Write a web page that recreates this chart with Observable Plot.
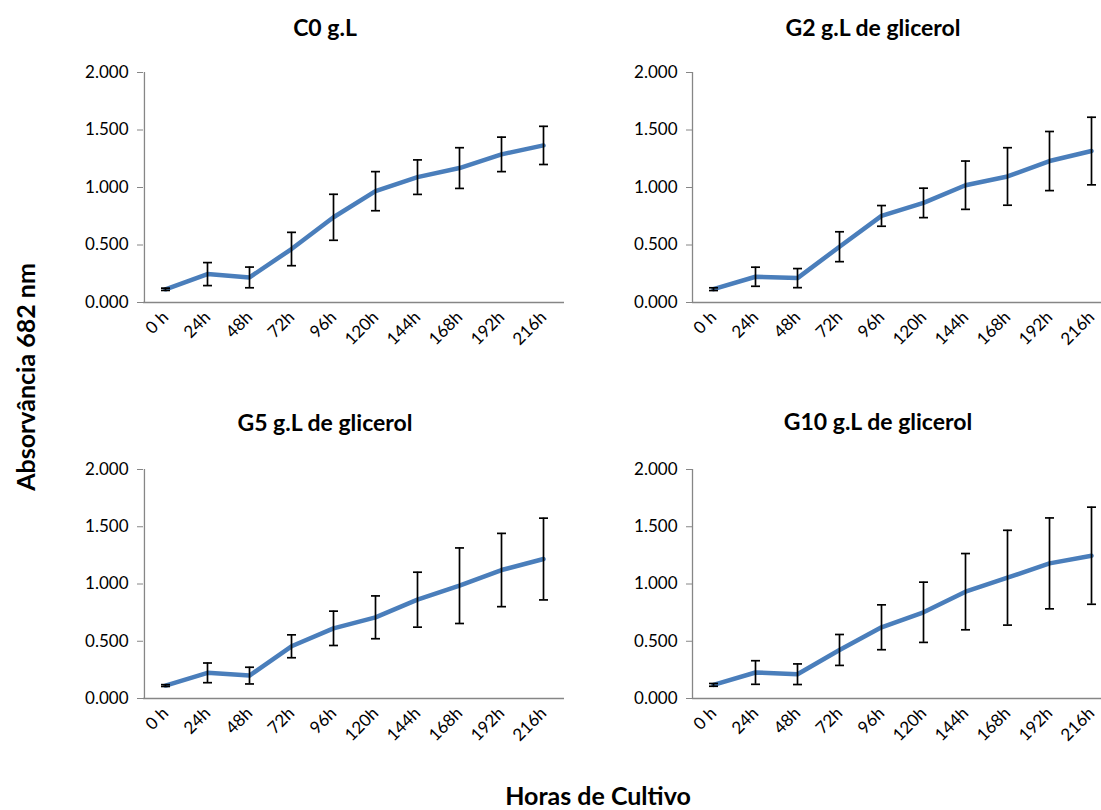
<!DOCTYPE html>
<html>
<head>
<meta charset="utf-8">
<script src="https://cdn.jsdelivr.net/npm/d3@7"></script>
<script src="https://cdn.jsdelivr.net/npm/@observablehq/plot@0.6"></script>
<style>
  html, body { margin: 0; padding: 0; background: #fff; }
  #page { position: relative; width: 1101px; height: 810px; overflow: hidden; font-family: Lato, "Open Sans", sans-serif; }
  .panel { position: absolute; }
  .panel svg { max-width: none !important; }
  .panel svg g[aria-label="y-axis tick label"] text,
  .panel svg g[aria-label="y-axis tick label"] { font-size: 17px !important; fill: #000; }
  .panel svg g[aria-label="x-axis tick label"] text,
  .panel svg g[aria-label="x-axis tick label"] { font-size: 17px !important; fill: #000; }
  .title { position: absolute; width: 400px; text-align: center; font-weight: bold; font-size: 23px; line-height: 28px; color: #000; white-space: nowrap; }
  .ytitle { position: absolute; font-weight: bold; font-size: 25px; line-height: 28px; color: #000; white-space: nowrap; transform: translate(-50%, -50%) rotate(-90deg); }
  .xtitle { position: absolute; font-weight: bold; font-size: 25px; line-height: 26px; color: #000; white-space: nowrap; transform: translate(-50%, -50%); }
</style>
</head>
<body>
<div id="page"></div>
<script>
const hours = ["0 h", "24h", "48h", "72h", "96h", "120h", "144h", "168h", "192h", "216h"];
const yTicks = [0, 0.5, 1, 1.5, 2];

const titles = ["C0 g.L", "G2 g.L de glicerol", "G5 g.L de glicerol", "G10 g.L de glicerol"];

const c0Mean  = [0.115, 0.247, 0.218, 0.465, 0.741, 0.968, 1.090, 1.169, 1.288, 1.366];
const c0Err   = [0.010, 0.100, 0.090, 0.145, 0.200, 0.170, 0.150, 0.177, 0.150, 0.166];
const g2Mean  = [0.116, 0.224, 0.212, 0.485, 0.753, 0.866, 1.020, 1.096, 1.230, 1.317];
const g2Err   = [0.012, 0.083, 0.083, 0.130, 0.090, 0.128, 0.210, 0.250, 0.257, 0.294];
const g5Mean  = [0.113, 0.224, 0.200, 0.456, 0.613, 0.709, 0.863, 0.985, 1.122, 1.218];
const g5Err   = [0.008, 0.086, 0.073, 0.100, 0.150, 0.187, 0.240, 0.330, 0.320, 0.357];
const g10Mean = [0.119, 0.227, 0.212, 0.424, 0.622, 0.753, 0.933, 1.055, 1.180, 1.247];
const g10Err  = [0.012, 0.103, 0.090, 0.135, 0.196, 0.263, 0.333, 0.414, 0.397, 0.424];

const series = [
  {title: titles[0], mean: c0Mean, err: c0Err},
  {title: titles[1], mean: g2Mean, err: g2Err},
  {title: titles[2], mean: g5Mean, err: g5Err},
  {title: titles[3], mean: g10Mean, err: g10Err}
];

// layout of the four panels (positions only)
const layout = [
  {left: 0,   top: 0,   width: 564, height: 395, mt: 72, mb: 93,  ml: 143, tx: 325, ty: 27},
  {left: 550, top: 0,   width: 562, height: 395, mt: 72, mb: 93,  ml: 142, tx: 873, ty: 27},
  {left: 0,   top: 395, width: 564, height: 415, mt: 74, mb: 112, ml: 143, tx: 325, ty: 422},
  {left: 550, top: 395, width: 562, height: 415, mt: 74, mb: 112, ml: 142, tx: 878, ty: 421}
];

const capSymbol = {
  draw(context, size) {
    context.moveTo(-4.5, 0);
    context.lineTo(4.5, 0);
  }
};

const page = document.getElementById("page");
const yDomain = [yTicks[0], yTicks[yTicks.length - 1]];

series.forEach((s, i) => {
  const L = layout[i];
  const data = hours.map((h, j) => ({h, v: s.mean[j], lo: s.mean[j] - s.err[j], hi: s.mean[j] + s.err[j]}));
  const halfStep = (L.width - L.ml) / hours.length / 2;
  const chart = Plot.plot({
    width: L.width,
    height: L.height,
    marginLeft: L.ml,
    marginRight: 0,
    marginTop: L.mt,
    marginBottom: L.mb,
    style: {fontFamily: "Lato, 'Open Sans', sans-serif", fontSize: "17px", color: "#000", background: "transparent", overflow: "visible"},
    x: {type: "point", domain: hours, padding: 0.5, align: 0.5, axis: null},
    y: {domain: yDomain, axis: null},
    marks: [
      Plot.ruleY([yDomain[0]], {stroke: "#868686", strokeWidth: 1.3}),
      Plot.ruleX([hours[0]], {x: d => d, y1: () => yDomain[0], y2: () => yDomain[1], dx: -halfStep, stroke: "#868686", strokeWidth: 1.3}),
      Plot.axisY({ticks: yTicks, tickFormat: d3.format(".3f"), tickSize: 6, tickPadding: 9, stroke: "#868686", fill: "#000", label: null, fontSize: 17}),
      Plot.axisX({tickSize: 0, tickRotate: -45, tickPadding: 12, label: null, fill: "#000", fontSize: 17}),
      Plot.line(data, {x: "h", y: "v", stroke: "#4a7ebb", strokeWidth: 4.5, strokeLinejoin: "round", strokeLinecap: "round"}),
      Plot.ruleX(data, {x: "h", y1: "lo", y2: "hi", stroke: "#000", strokeWidth: 1.7}),
      Plot.dot(data, {x: "h", y: "lo", symbol: capSymbol, stroke: "#000", strokeWidth: 1.7, fill: "none"}),
      Plot.dot(data, {x: "h", y: "hi", symbol: capSymbol, stroke: "#000", strokeWidth: 1.7, fill: "none"})
    ]
  });
  const div = document.createElement("div");
  div.className = "panel";
  div.style.left = L.left + "px";
  div.style.top = L.top + "px";
  div.style.width = L.width + "px";
  div.appendChild(chart);
  page.appendChild(div);

  const t = document.createElement("div");
  t.className = "title";
  t.textContent = s.title;
  t.style.left = (L.tx - 200) + "px";
  t.style.top = (L.ty - 14) + "px";
  page.appendChild(t);
});

const yt = document.createElement("div");
yt.className = "ytitle";
yt.textContent = "Absorvância 682 nm";
yt.style.left = "25px";
yt.style.top = "377px";
page.appendChild(yt);

const xt = document.createElement("div");
xt.className = "xtitle";
xt.textContent = "Horas de Cultivo";
xt.style.left = "598px";
xt.style.top = "795px";
page.appendChild(xt);
</script>
</body>
</html>
